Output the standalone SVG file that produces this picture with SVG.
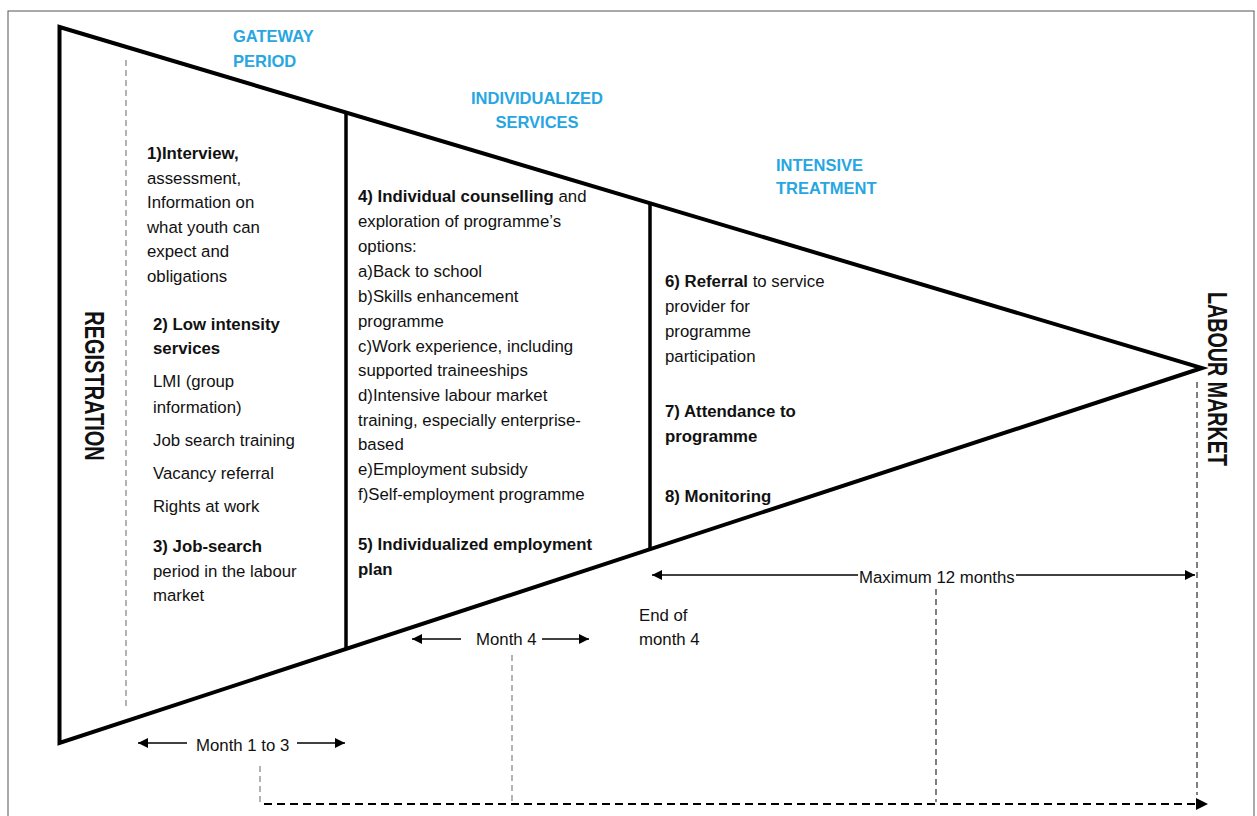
<svg xmlns="http://www.w3.org/2000/svg" width="1257" height="816" viewBox="0 0 1257 816">
  <defs>
    <marker id="head" viewBox="0 0 10 10" refX="10" refY="5" markerWidth="10" markerHeight="10" markerUnits="userSpaceOnUse" orient="auto-start-reverse">
      <path d="M0,0 L10,5 L0,10 z" fill="#000"/>
    </marker>
    <marker id="headL" viewBox="0 0 12 10" refX="12" refY="5" markerWidth="12" markerHeight="10" markerUnits="userSpaceOnUse" orient="auto-start-reverse">
      <path d="M0,0 L12,5 L0,10 z" fill="#000"/>
    </marker>
  </defs>
  <style>
    text { font-family: "Liberation Sans", Arial, sans-serif; fill: #111; }
    .body { font-size: 16.8px; }
    .b { font-weight: bold; }
    .phase { font-size: 16.5px; font-weight: bold; fill: #27a6e2; }
    .side { font-size: 20px; font-weight: bold; }
    .frame { fill: none; stroke: #555; stroke-width: 1; }
    .outline { fill: none; stroke: #000; stroke-width: 4; stroke-linejoin: miter; }
    .divider { stroke: #000; stroke-width: 3.5; }
    .guide-light { stroke: #9a9a9a; stroke-width: 1.5; stroke-dasharray: 6 4; fill: none; }
    .guide-dark { stroke: #555; stroke-width: 1.5; stroke-dasharray: 6 4; fill: none; }
    .span { stroke: #000; stroke-width: 1.6; fill: none; }
    .timeline { stroke: #000; stroke-width: 2; stroke-dasharray: 8 5; fill: none; }
  </style>

  <rect class="frame" x="8" y="11" width="1246" height="812"/>

  <!-- funnel outline and phase dividers -->
  <g id="funnel">
    <polygon class="outline" points="59.5,27 1202,368 59.5,743"/>
    <line class="divider" x1="346" y1="111" x2="346" y2="649"/>
    <line class="divider" x1="650" y1="202" x2="650" y2="550"/>
  </g>

  <g id="registration">
    <text class="side" text-anchor="middle" transform="translate(85,386) rotate(90) scale(1,1.4)">REGISTRATION</text>
  </g>
  <g id="labour-market">
    <text class="side" style="font-size:19.7px" text-anchor="middle" transform="translate(1208,379) rotate(90) scale(1,1.4)">LABOUR MARKET</text>
  </g>

  <!-- phase titles -->
  <g id="gateway-title">
    <text class="phase"><tspan x="233" y="42">GATEWAY</tspan><tspan x="233" y="67">PERIOD</tspan></text>
  </g>
  <g id="individualized-title">
    <text class="phase" text-anchor="middle"><tspan x="537" y="104">INDIVIDUALIZED</tspan><tspan x="537" y="128">SERVICES</tspan></text>
  </g>
  <g id="intensive-title">
    <text class="phase"><tspan x="776" y="171">INTENSIVE</tspan><tspan x="776" y="194">TREATMENT</tspan></text>
  </g>

  <!-- gateway period steps -->
  <g id="gateway-steps">
    <text class="body">
      <tspan x="147" y="159" class="b">1)Interview,</tspan>
      <tspan x="147" y="184">assessment,</tspan>
      <tspan x="147" y="208">Information on</tspan>
      <tspan x="147" y="233">what youth can</tspan>
      <tspan x="147" y="257">expect and</tspan>
      <tspan x="147" y="282">obligations</tspan>
    </text>
    <text class="body">
      <tspan x="153" y="330" class="b">2) Low intensity</tspan>
      <tspan x="153" y="354" class="b">services</tspan>
      <tspan x="153" y="387">LMI (group</tspan>
      <tspan x="153" y="413">information)</tspan>
      <tspan x="153" y="446">Job search training</tspan>
      <tspan x="153" y="479">Vacancy referral</tspan>
      <tspan x="153" y="512">Rights at work</tspan>
    </text>
    <text class="body">
      <tspan x="153" y="552" class="b">3) Job-search</tspan>
      <tspan x="153" y="577">period in the labour</tspan>
      <tspan x="153" y="601">market</tspan>
    </text>
  </g>

  <!-- individualized services steps -->
  <g id="individualized-steps">
    <text class="body">
      <tspan x="358" y="202"><tspan class="b">4) Individual counselling</tspan> and</tspan>
      <tspan x="358" y="227">exploration of programme’s</tspan>
      <tspan x="358" y="252">options:</tspan>
      <tspan x="358" y="277">a)Back to school</tspan>
      <tspan x="358" y="302">b)Skills enhancement</tspan>
      <tspan x="358" y="327">programme</tspan>
      <tspan x="358" y="352">c)Work experience, including</tspan>
      <tspan x="358" y="376">supported traineeships</tspan>
      <tspan x="358" y="401">d)Intensive labour market</tspan>
      <tspan x="358" y="426">training, especially enterprise-</tspan>
      <tspan x="358" y="450">based</tspan>
      <tspan x="358" y="475">e)Employment subsidy</tspan>
      <tspan x="358" y="500">f)Self-employment programme</tspan>
    </text>
    <text class="body b">
      <tspan x="358" y="550">5) Individualized employment</tspan>
      <tspan x="358" y="575">plan</tspan>
    </text>
  </g>

  <!-- intensive treatment steps -->
  <g id="intensive-steps">
    <text class="body">
      <tspan x="665" y="287"><tspan class="b">6) Referral</tspan> to service</tspan>
      <tspan x="665" y="312">provider for</tspan>
      <tspan x="665" y="337">programme</tspan>
      <tspan x="665" y="362">participation</tspan>
    </text>
    <text class="body b">
      <tspan x="665" y="417">7) Attendance to</tspan>
      <tspan x="665" y="442">programme</tspan>
    </text>
    <text class="body b">
      <tspan x="665" y="502">8) Monitoring</tspan>
    </text>
  </g>

  <!-- duration labels -->
  <g id="duration-labels">
    <text class="body" x="196" y="751">Month 1 to 3</text>
    <text class="body" x="476" y="645">Month 4</text>
    <text class="body"><tspan x="639" y="621">End of</tspan><tspan x="639" y="645">month 4</tspan></text>
    <text class="body" x="859" y="583">Maximum 12 months</text>
  </g>

  <!-- connectors: guides, spans and timeline -->
  <g id="connectors">
    <line class="guide-light" x1="126" y1="60" x2="126" y2="709"/>
    <line class="guide-light" x1="260" y1="766" x2="260" y2="804"/>
    <line class="guide-light" x1="512" y1="655" x2="512" y2="802"/>
    <line class="guide-dark" x1="936" y1="589" x2="936" y2="802"/>
    <line class="guide-dark" x1="1197" y1="382" x2="1197" y2="795"/>

    <line class="span" x1="187" y1="743" x2="138" y2="743" marker-end="url(#head)"/>
    <line class="span" x1="297" y1="743" x2="345" y2="743" marker-end="url(#head)"/>
    <line class="span" x1="461" y1="639" x2="412" y2="639" marker-end="url(#head)"/>
    <line class="span" x1="542" y1="639" x2="589" y2="639" marker-end="url(#head)"/>
    <line class="span" x1="858" y1="575" x2="652" y2="575" marker-end="url(#head)"/>
    <line class="span" x1="1016" y1="575" x2="1195" y2="575" marker-end="url(#head)"/>

    <line class="timeline" x1="264" y1="804" x2="1196" y2="804"/>
    <path d="M1196,798 L1208,804 L1196,810 z" fill="#000"/>
  </g>
</svg>
